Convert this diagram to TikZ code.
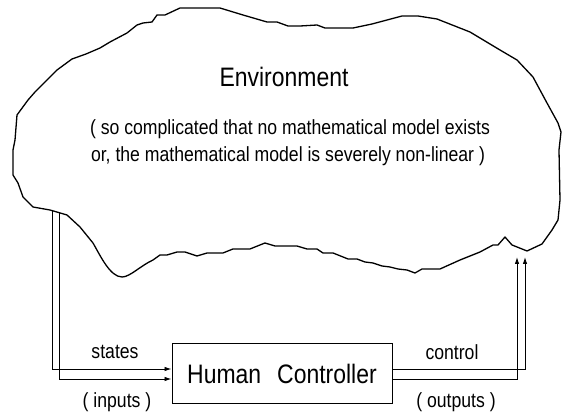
\documentclass[tikz,border=0pt]{standalone}
\usepackage{fontspec}
\setmainfont{Liberation Sans}[FakeStretch=0.86]
\usetikzlibrary{arrows.meta}
\begin{document}
\begin{tikzpicture}[x=1pt,y=-1pt,
  cloudline/.style={line width=1.3pt, line join=round},
  conn/.style={line width=0.9pt},
  arr/.style={conn,-{Latex[length=7pt,width=4.5pt]}},
  lbl/.style={inner sep=0pt, font=\fontsize{20.5}{23}\selectfont},
  boxstyle/.style={draw, line width=1pt, minimum width=220pt, minimum height=60pt, inner sep=0pt, font=\fontsize{26.7}{29}\selectfont}
]
\useasboundingbox (0,0) rectangle (563,414);
% environment cloud
\draw[cloudline] (28,100) -- (35,92) -- (45,82) -- (57,70) -- (72,59) -- (86,54) -- (100,48) -- (110,42) -- (127,33) -- (137,25) -- (143,23) -- (152,22) -- (157,15) -- (165,15) -- (180,8) -- (220,8) -- (243,15) -- (267,22) -- (277,22) -- (288,26) -- (300,26) -- (317,25) -- (325,28) -- (353,28) -- (372,24) -- (402,16) -- (418,16) -- (437,19) -- (470,32) -- (500,50) -- (517,60) -- (533,77) -- (547,103) -- (558,123) -- (561,132) -- (559,150) -- (560,200) -- (558,220) -- (552,230) -- (542,244) -- (527,251) -- (512,245) -- (505,237) -- (498,245) -- (493,245) -- (480,252) -- (460,260) -- (440,269) -- (422,269) -- (415,273) -- (407,270) -- (398,269) -- (390,267) -- (382,266) -- (373,263) -- (365,262) -- (357,259) -- (348,259) -- (333,253) -- (323,253) -- (317,249) -- (307,249) -- (297,246) -- (275,246) -- (265,243) -- (250,249) -- (233,249) -- (223,253) -- (207,253) -- (197,256) -- (185,252) -- (177,252) -- (167,255) -- (160,255) -- (153,260) .. controls (140,266) and (130,277) .. (122,277) .. controls (110,277) and (100,255) .. (93,243) -- (80,227) -- (67,215) -- (50,210) -- (33,207) -- (23,197) -- (18,183) -- (13,175) -- (13,150) -- (15,140) -- (17,115) -- cycle;

\node[lbl, font=\fontsize{26.7}{29}\selectfont] (env) at (284,77) {Environment};
\node[lbl] (l1) at (290,129) {( so complicated that no mathematical model exists};
\node[lbl] (l2) at (288,156) {or, the mathematical model is severely non-linear )};

% controller
\node[boxstyle] (hc) at (282,374) {Human\hspace{0.6em}Controller};

% connector end points on the cloud
\coordinate (sOut) at (52,210.6);
\coordinate (sIn) at (59,212.6);
\coordinate (cIn) at (517,257);
\coordinate (cOut) at (525,257);
\coordinate (hcA) at ([yshift=-5pt]hc.west);
\coordinate (hcB) at ([yshift=5pt]hc.west);
\coordinate (hcC) at ([yshift=-5pt]hc.east);
\coordinate (hcD) at ([yshift=5pt]hc.east);

\draw[arr] (sIn) |- (hcA);
\draw[arr] (sOut) |- (hcB);
\draw[arr] (hcC) -| (cIn);
\draw[arr] (hcD) -| (cOut);

\node[lbl] (st) at (115,352) {states};
\node[lbl] (inp) at (117,402) {( inputs )};
\node[lbl] (ct) at (452,352) {control};
\node[lbl] (outp) at (456,402) {( outputs )};
\end{tikzpicture}
\end{document}
